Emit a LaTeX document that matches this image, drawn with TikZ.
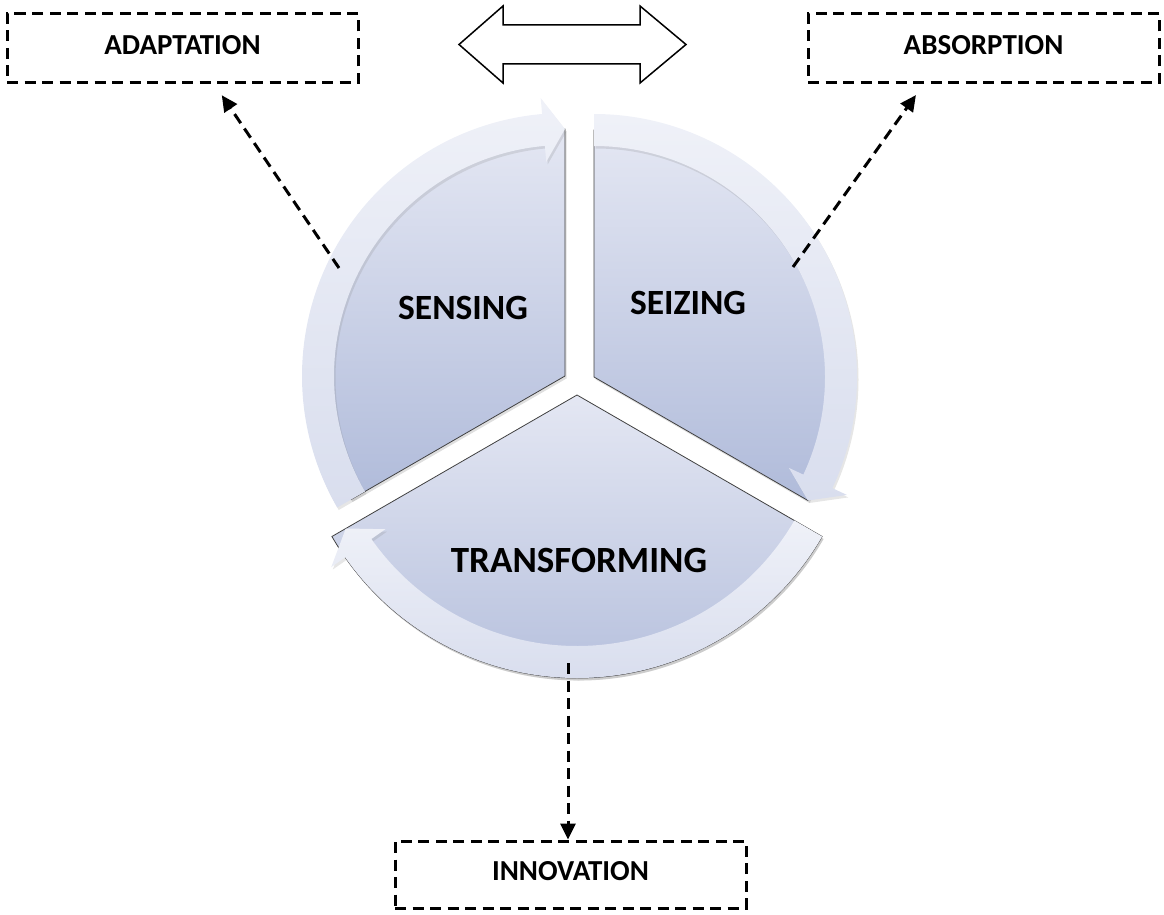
\documentclass[tikz,border=0pt]{standalone}
\usepackage{fontspec}
\setmainfont{Carlito}
\usetikzlibrary{arrows.meta,shadows}

\definecolor{ringlight}{HTML}{EFF1F8}
\definecolor{ringdark}{HTML}{D9DEEE}
\definecolor{wedgetop}{HTML}{E4E7F3}
\definecolor{wedgebot}{HTML}{B0BBDA}

\begin{document}
\begin{tikzpicture}[x=1pt, y=1pt,
    segwedge/.style={top color=wedgetop, bottom color=wedgebot, draw=black!75, line width=0.8pt,
      drop shadow={opacity=0.25, shadow xshift=1.5pt, shadow yshift=-2.5pt}},
    segring/.style={top color=ringlight, bottom color=ringdark,
      drop shadow={opacity=0.2, shadow xshift=1.5pt, shadow yshift=-2.5pt}},
    seglabel/.style={font=\bfseries\fontsize{35.5}{40}\selectfont},
    dashbox/.style={draw, dash pattern=on 11pt off 6.5pt, line width=3pt,
      minimum width=351pt, minimum height=69pt, inner sep=0pt, text depth=7pt,
      font=\bfseries\fontsize{29}{34}\selectfont},
    dasharrow/.style={dash pattern=on 11pt off 6.5pt, line width=3pt,
      -{Triangle[length=16pt,width=15pt]}}]
  \useasboundingbox (0,0) rectangle (1164,-915);

  % Sensing segment
  \begin{scope}[shift={(565,-376)}]
    \path[segwedge] (0,0) -- (90:247pt) arc[start angle=90, end angle=210, radius=247pt] -- cycle;
    \path[segring] (210:263pt) arc[start angle=210, end angle=95, radius=263pt] -- (95:279pt) -- (90:247pt)
      -- (95:215pt) -- (95:231pt) arc[start angle=95, end angle=210, radius=231pt] -- cycle;
  \end{scope}
  % Seizing segment
  \begin{scope}[shift={(594,-377)}]
    \path[segwedge] (0,0) -- (90:247pt) arc[start angle=90, end angle=-30, radius=247pt] -- cycle;
    \path[segring] (90:263pt) arc[start angle=90, end angle=-25, radius=263pt] -- (-25:279pt) -- (-30:247pt)
      -- (-25:215pt) -- (-25:231pt) arc[start angle=-25, end angle=90, radius=231pt] -- cycle;
  \end{scope}
  % Transforming segment
  \begin{scope}[shift={(577,-395)}]
    \path[segwedge] (0,0) -- (210:283pt) arc[start angle=210, end angle=330, radius=283pt] -- cycle;
    \path[segring] (330:283pt) arc[start angle=330, end angle=215, radius=283pt] -- (215:300pt) -- (210:267pt)
      -- (215:234pt) -- (215:251pt) arc[start angle=215, end angle=330, radius=251pt] -- cycle;
  \end{scope}

  \node[seglabel] (sensing) at (463,-307.5) {SENSING};
  \node[seglabel] (seizing) at (688,-303) {SEIZING};
  \node[seglabel, font=\bfseries\fontsize{37}{42}\selectfont] (transforming) at (579,-560) {TRANSFORMING};

  % Double arrow on top
  \draw[line width=1.5pt, fill=white] (459,-44.5) -- (503,-6) -- (503,-25) -- (640,-25) -- (640,-6)
    -- (686,-44.5) -- (640,-83) -- (640,-64) -- (503,-64) -- (503,-83) -- cycle;

  % Dashed boxes
  \node[dashbox] (adaptation) at (182.5,-48.5) {ADAPTATION};
  \node[dashbox] (absorption) at (983.5,-48.5) {ABSORPTION};
  \node[dashbox, minimum height=67pt] (innovation) at (570.5,-874.5) {INNOVATION};

  \coordinate (sensept) at (339,-268);
  \coordinate (seizept) at (793,-267);
  \coordinate (transpt) at (568,-663);

  \draw[dasharrow, shorten >=13pt] (sensept) -- ([xshift=32pt]adaptation.south);
  \draw[dasharrow, shorten >=13pt] (seizept) -- ([xshift=-60pt]absorption.south);
  \draw[dasharrow] (transpt) -- (transpt |- innovation.north);
\end{tikzpicture}
\end{document}
